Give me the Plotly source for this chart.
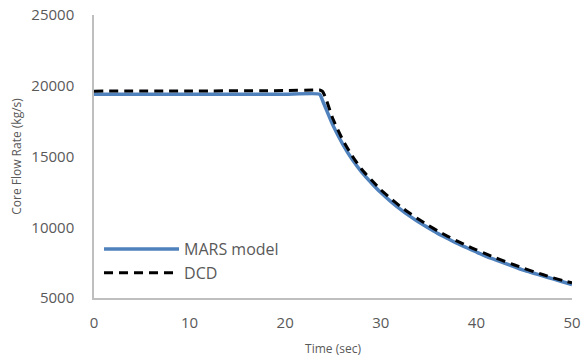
import plotly.graph_objects as go

# MARS model series
mars_t = [0, 10, 20, 23.6, 24, 25, 26, 27, 28, 29, 30, 31, 32, 33, 34, 35, 36, 37, 38,
          39, 40, 41, 42, 43, 44, 45, 46, 47, 48, 49, 50]
mars_v = [19400, 19400, 19400, 19400, 18800, 17200, 15900, 14800, 13900, 13150, 12450,
          11850, 11300, 10800, 10350, 9950, 9550, 9200, 8850, 8550, 8250, 7950, 7700,
          7450, 7200, 6950, 6750, 6550, 6350, 6150, 5950]

# DCD series
dcd_t = [0, 10, 20, 23, 23.6, 23.9, 24.2, 25, 26, 27, 28, 29, 30, 31, 32, 33, 34, 35, 36,
         37, 38, 39, 40, 41, 42, 43, 44, 45, 46, 47, 48, 49, 50]
dcd_v = [19620, 19630, 19660, 19700, 19700, 19600, 19200, 17650, 16200, 15050, 14100,
         13350, 12650, 12050, 11500, 11000, 10550, 10120, 9720, 9360, 9020, 8700, 8400,
         8110, 7840, 7580, 7330, 7090, 6860, 6640, 6430, 6240, 6070]

x_ticks = [0, 10, 20, 30, 40, 50]
y_ticks = [5000, 10000, 15000, 20000, 25000]
y_tick_labels = ["5000", "10000", "15000", "20000", "25000"]

fig = go.Figure()
fig.add_trace(go.Scatter(x=mars_t, y=mars_v, mode="lines", name="MARS model",
                         line=dict(color="#4F81BD", width=3.5, shape="spline", smoothing=0.4)))
fig.add_trace(go.Scatter(x=dcd_t, y=dcd_v, mode="lines", name="DCD",
                         line=dict(color="black", width=3, dash="9px,6px", shape="spline", smoothing=0.4)))

font_family = "Open Sans, Noto Sans, DejaVu Sans, sans-serif"
fig.update_layout(
    width=582, height=363,
    margin=dict(l=94, r=10, t=15, b=65, autoexpand=False),
    paper_bgcolor="white", plot_bgcolor="white",
    font=dict(family=font_family, color="#595959", size=15),
    showlegend=True,
    legend=dict(x=0.0105, y=0.233, xanchor="left", yanchor="top",
                bgcolor="rgba(0,0,0,0)", font=dict(size=16, color="#595959"),
                tracegroupgap=2, itemwidth=75),
    xaxis=dict(range=[0, 50], tickvals=x_ticks, showgrid=False, zeroline=False,
               showline=True, linecolor="#BFBFBF", linewidth=1.5, ticks="",
               ticklabelstandoff=10, automargin=False,
               title=dict(text="Time (sec)", font=dict(size=12, color="#595959"), standoff=14)),
    yaxis=dict(range=[5000, 25000], tickvals=y_ticks, ticktext=y_tick_labels,
               showgrid=False, zeroline=False,
               showline=True, linecolor="#BFBFBF", linewidth=1.5, ticks="",
               ticklabelstandoff=15, automargin=False,
               title=dict(text="Core Flow Rate (kg/s)", font=dict(size=12, color="#595959"), standoff=7)),
)

fig.write_html("out.html", config={"displayModeBar": False},
               post_script="document.body.style.margin='0';document.body.style.overflow='hidden';")
